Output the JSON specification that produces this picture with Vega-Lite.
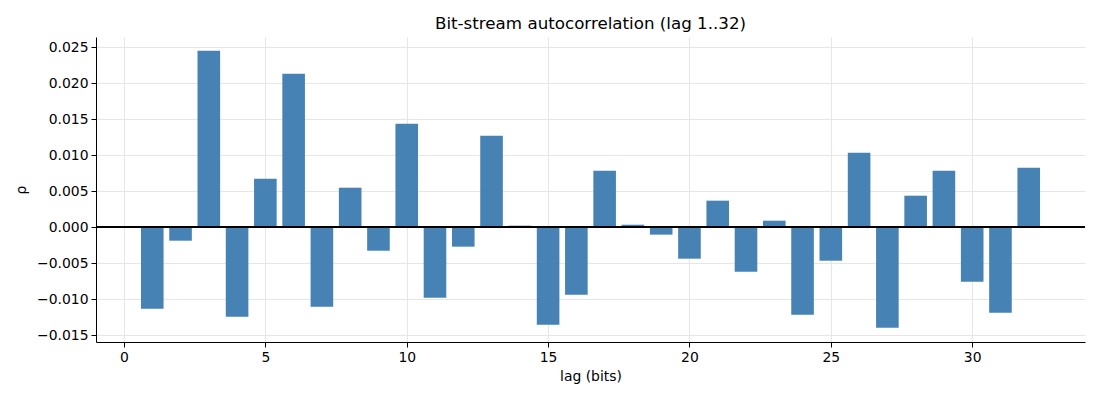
{
  "$schema": "https://vega.github.io/schema/vega-lite/v6.json",
  "width": 989,
  "height": 305,
  "autosize": {"type": "none"},
  "padding": {"left": 96, "top": 37, "right": 15, "bottom": 58},
  "background": "white",
  "config": {
    "view": {"stroke": null},
    "font": "DejaVu Sans",
    "axis": {
      "labelFont": "DejaVu Sans",
      "titleFont": "DejaVu Sans",
      "labelFontSize": 13.9,
      "titleFontSize": 13.9,
      "titleFontWeight": "normal",
      "labelColor": "black",
      "titleColor": "black",
      "domainColor": "black",
      "tickColor": "black",
      "tickSize": 5,
      "gridColor": "#e6e6e6",
      "gridWidth": 1,
      "labelOverlap": false
    }
  },
  "title": {"text": "Bit-stream autocorrelation (lag 1..32)", "fontSize": 16.7, "fontWeight": "normal", "font": "DejaVu Sans", "color": "black", "offset": 4},
  "data": {
    "values": [
      {"lag": 1, "rho": -0.01134},
      {"lag": 2, "rho": -0.0019},
      {"lag": 3, "rho": 0.02449},
      {"lag": 4, "rho": -0.01245},
      {"lag": 5, "rho": 0.00671},
      {"lag": 6, "rho": 0.0213},
      {"lag": 7, "rho": -0.01106},
      {"lag": 8, "rho": 0.00546},
      {"lag": 9, "rho": -0.00329},
      {"lag": 10, "rho": 0.01435},
      {"lag": 11, "rho": -0.00981},
      {"lag": 12, "rho": -0.00273},
      {"lag": 13, "rho": 0.01269},
      {"lag": 14, "rho": 0.00019},
      {"lag": 15, "rho": -0.01356},
      {"lag": 16, "rho": -0.0094},
      {"lag": 17, "rho": 0.00782},
      {"lag": 18, "rho": 0.00032},
      {"lag": 19, "rho": -0.00106},
      {"lag": 20, "rho": -0.0044},
      {"lag": 21, "rho": 0.00366},
      {"lag": 22, "rho": -0.0062},
      {"lag": 23, "rho": 0.00088},
      {"lag": 24, "rho": -0.01218},
      {"lag": 25, "rho": -0.00468},
      {"lag": 26, "rho": 0.01032},
      {"lag": 27, "rho": -0.01398},
      {"lag": 28, "rho": 0.00435},
      {"lag": 29, "rho": 0.00782},
      {"lag": 30, "rho": -0.00759},
      {"lag": 31, "rho": -0.0119},
      {"lag": 32, "rho": 0.00824}
    ]
  },
  "layer": [
    {
      "mark": {"type": "rule", "color": "black", "strokeWidth": 0.8},
      "encoding": {"y": {"datum": 0, "type": "quantitative", "scale": {"domain": [-0.01597, 0.02639], "nice": false, "padding": 0}, "axis": {"tickCount": 9, "format": ".3f", "title": "ρ", "titlePadding": 8, "labelPadding": 3, "grid": true, "labelOverlap": false}}}
    },
    {
      "mark": {"type": "bar", "size": 22.6, "color": "#4682b4"},
      "encoding": {
        "x": {
          "field": "lag", "type": "quantitative",
          "scale": {"domain": [-0.99, 33.99], "nice": false, "zero": false, "padding": 0},
          "axis": {"values": [0, 5, 10, 15, 20, 25, 30], "title": "lag (bits)", "titlePadding": 6, "labelPadding": 3, "grid": true, "format": "d", "labelOverlap": false}
        },
        "y": {
          "field": "rho", "type": "quantitative",
          "scale": {"domain": [-0.01597, 0.02639], "nice": false, "padding": 0},
          "axis": {"tickCount": 9, "format": ".3f", "title": "ρ", "titlePadding": 8, "labelPadding": 3, "grid": true, "labelOverlap": false}
        }
      }
    },
    {
      "mark": {"type": "rule", "color": "black", "strokeWidth": 0.8},
      "encoding": {"y": {"datum": 0, "type": "quantitative"}}
    }
  ]
}
